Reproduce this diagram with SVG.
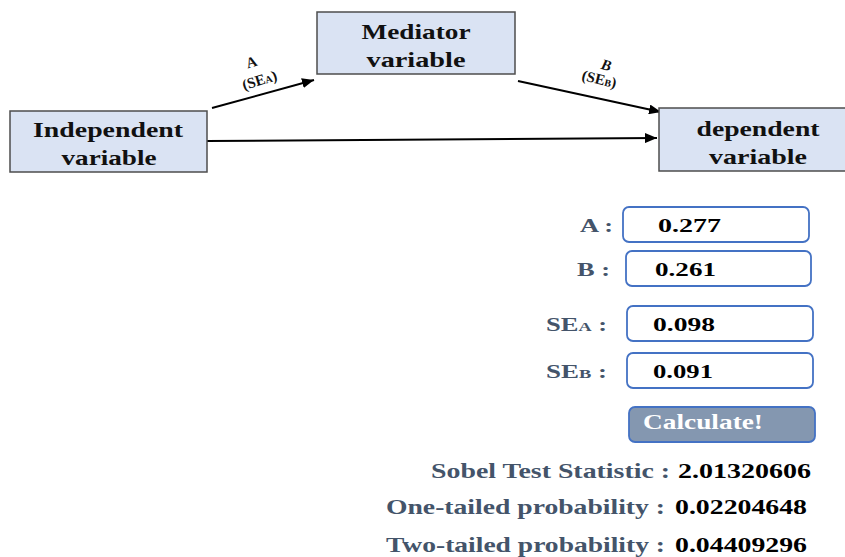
<svg xmlns="http://www.w3.org/2000/svg" width="845" height="557" viewBox="0 0 845 557">
  <style>
    .node rect { fill: #dae3f3; stroke: #4d4d4d; stroke-width: 1.5; }
    .node text { font-family: "Liberation Serif", serif; font-weight: bold; font-size: 22px; fill: #111; text-anchor: middle; }
    .conn line { stroke: #000; stroke-width: 2; }
    .elab { font-family: "Liberation Serif", serif; font-weight: bold; font-size: 15px; fill: #111; text-anchor: middle; }
    .field { fill: #fff; stroke: #4472c4; stroke-width: 1.8; }
    .flabel { font-family: "Liberation Serif", serif; font-weight: bold; font-size: 19px; fill: #44546a; text-anchor: end; }
    .fval { font-family: "Liberation Serif", serif; font-weight: bold; font-size: 19px; fill: #000; }
    .btn { fill: #8497b0; stroke: #4472c4; stroke-width: 1.8; }
    .btntext { font-family: "Liberation Serif", serif; font-weight: bold; font-size: 21px; fill: #fff; }
    .rlabel { font-family: "Liberation Serif", serif; font-weight: bold; font-size: 21px; fill: #44546a; }
    .rval { font-family: "Liberation Serif", serif; font-weight: bold; font-size: 21px; fill: #000; }
  </style>
  <defs>
    <marker id="arrow" viewBox="0 0 12 10" refX="12" refY="5" markerWidth="12" markerHeight="10" markerUnits="userSpaceOnUse" orient="auto">
      <path d="M0,0 L12,5 L0,10 Z" fill="#000"/>
    </marker>
  </defs>

  <!-- connectors -->
  <g id="connectors" class="conn">
    <line x1="212" y1="108" x2="314" y2="80" marker-end="url(#arrow)"/>
    <line x1="518" y1="81" x2="661" y2="112" marker-end="url(#arrow)"/>
    <line x1="207" y1="141" x2="657" y2="138" marker-end="url(#arrow)"/>
  </g>

  <!-- path labels -->
  <g id="label-a">
    <text class="elab" transform="translate(253,67) rotate(-17)">A</text>
    <text class="elab" transform="translate(261,85) rotate(-17)">(SE<tspan font-size="10">A</tspan>)</text>
  </g>
  <g id="label-b">
    <text class="elab" transform="translate(605,70) rotate(14)" font-style="italic">B</text>
    <text class="elab" transform="translate(598,84) rotate(14)">(SE<tspan font-size="10">B</tspan>)</text>
  </g>

  <!-- nodes -->
  <g id="independent" class="node">
    <rect x="10" y="111" width="197" height="61"/>
    <text x="108" y="137" textLength="150" lengthAdjust="spacingAndGlyphs">Independent</text>
    <text x="109" y="165" textLength="95" lengthAdjust="spacingAndGlyphs">variable</text>
  </g>
  <g id="mediator" class="node">
    <rect x="317" y="12" width="198" height="62"/>
    <text x="416" y="39" textLength="109" lengthAdjust="spacingAndGlyphs">Mediator</text>
    <text x="416" y="67" textLength="99" lengthAdjust="spacingAndGlyphs">variable</text>
  </g>
  <g id="dependent" class="node">
    <rect x="659" y="108" width="190" height="63"/>
    <text x="758" y="136" textLength="123" lengthAdjust="spacingAndGlyphs">dependent</text>
    <text x="758" y="164" textLength="98" lengthAdjust="spacingAndGlyphs">variable</text>
  </g>

  <!-- input fields -->
  <g id="input-a">
    <text class="flabel" x="613" y="232" textLength="33" lengthAdjust="spacingAndGlyphs">A :</text>
    <rect class="field" x="623" y="207" width="186" height="35" rx="6"/>
    <text class="fval" x="658" y="232" textLength="63" lengthAdjust="spacingAndGlyphs">0.277</text>
  </g>
  <g id="input-b">
    <text class="flabel" x="610" y="276" textLength="33" lengthAdjust="spacingAndGlyphs">B :</text>
    <rect class="field" x="626" y="251" width="185" height="35" rx="6"/>
    <text class="fval" x="655" y="276" textLength="61" lengthAdjust="spacingAndGlyphs">0.261</text>
  </g>
  <g id="input-sea">
    <text class="flabel" x="607" y="331" textLength="61" lengthAdjust="spacingAndGlyphs">SE<tspan font-size="13">A</tspan> :</text>
    <rect class="field" x="627" y="306" width="186" height="35" rx="6"/>
    <text class="fval" x="653" y="331" textLength="62" lengthAdjust="spacingAndGlyphs">0.098</text>
  </g>
  <g id="input-seb">
    <text class="flabel" x="607" y="378" textLength="61" lengthAdjust="spacingAndGlyphs">SE<tspan font-size="13">B</tspan> :</text>
    <rect class="field" x="627" y="353" width="186" height="35" rx="6"/>
    <text class="fval" x="653" y="378" textLength="60" lengthAdjust="spacingAndGlyphs">0.091</text>
  </g>

  <!-- button -->
  <g id="calculate">
    <rect class="btn" x="629" y="407" width="186" height="35" rx="6"/>
    <text class="btntext" x="643" y="429" textLength="120" lengthAdjust="spacingAndGlyphs">Calculate!</text>
  </g>

  <!-- results -->
  <g id="results">
    <text class="rlabel" x="431" y="478" textLength="239" lengthAdjust="spacingAndGlyphs">Sobel Test Statistic :</text>
    <text class="rval" x="678" y="478" textLength="133" lengthAdjust="spacingAndGlyphs">2.01320606</text>
    <text class="rlabel" x="386" y="514" textLength="279" lengthAdjust="spacingAndGlyphs">One-tailed probability :</text>
    <text class="rval" x="675" y="514" textLength="132" lengthAdjust="spacingAndGlyphs">0.02204648</text>
    <text class="rlabel" x="386" y="552" textLength="279" lengthAdjust="spacingAndGlyphs">Two-tailed probability :</text>
    <text class="rval" x="675" y="552" textLength="132" lengthAdjust="spacingAndGlyphs">0.04409296</text>
  </g>
</svg>
